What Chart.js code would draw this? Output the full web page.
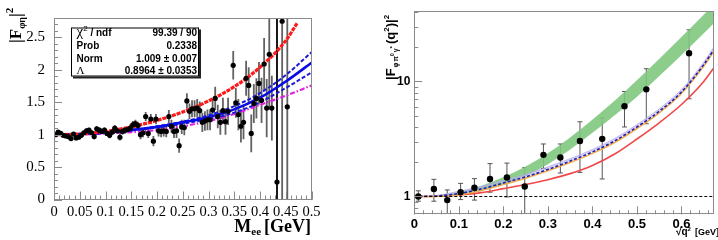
<!DOCTYPE html>
<html><head><meta charset="utf-8">
<script src="https://cdn.jsdelivr.net/npm/chart.js@4.4.0/dist/chart.umd.min.js"></script>
<style>
html,body{margin:0;padding:0;background:#fff;width:718px;height:240px;overflow:hidden}
#c1{position:absolute;left:0;top:0}
#c2{position:absolute;left:340px;top:0}
</style></head><body>
<canvas id="c1" width="340" height="240"></canvas>
<canvas id="c2" width="378" height="240"></canvas>
<script>
// ================= LEFT PANEL DATA =================
const mX = [0.003,0.008,0.013,0.018,0.023,0.028,0.033,0.038,0.043,0.048,0.053,0.058,0.063,0.068,0.073,0.078,0.083,0.088,0.093,0.098,
0.103,0.108,0.113,0.118,0.123,0.128,0.133,0.138,0.143,0.148,0.153,0.158,0.163,0.168,0.173,0.178,0.183,0.188,0.193,0.198,
0.203,0.208,0.213,0.218,0.223,0.228,0.233,0.238,0.243,0.248,0.253,0.258,0.263,0.268,0.273,0.278,0.283,0.288,0.293,0.298,
0.303,0.308,0.313,0.318,0.323,0.328,0.333,0.338,0.348,0.353,0.358,0.363,0.368,0.373,0.378,0.383,0.388,0.393,0.398,0.403,
0.408,0.413,0.418,0.423,0.433,0.443,0.453];
const mY = [1.00,1.04,1.02,0.99,0.98,0.97,0.94,1.01,0.95,0.96,0.99,1.03,1.06,1.07,1.03,0.97,1.09,1.07,1.05,1.07,
1.02,0.99,1.04,1.10,1.06,0.96,1.05,1.07,1.08,1.10,1.15,1.17,1.14,1.00,1.03,1.28,1.02,1.24,0.90,1.24,
1.06,1.05,1.06,1.05,1.28,1.13,1.05,1.06,0.83,1.12,1.11,1.52,1.36,1.40,1.40,1.41,1.37,1.19,1.21,1.23,
1.23,1.38,1.56,1.28,1.19,1.37,1.20,1.36,2.07,1.49,1.31,1.13,1.19,1.87,1.76,1.02,1.48,1.56,1.79,1.53,
2.09,1.41,2.24,1.41,0.27,2.75,1.43];
const mErr = [0.03,0.03,0.03,0.03,0.03,0.03,0.03,0.03,0.03,0.03,0.03,0.03,0.035,0.035,0.035,0.04,0.04,0.04,0.04,0.04,
0.04,0.045,0.045,0.045,0.05,0.05,0.05,0.05,0.05,0.06,0.06,0.06,0.06,0.07,0.07,0.07,0.07,0.08,0.08,0.08,
0.09,0.09,0.09,0.09,0.10,0.10,0.10,0.11,0.11,0.11,0.12,0.12,0.12,0.13,0.13,0.14,0.14,0.15,0.15,0.16,
0.16,0.17,0.18,0.18,0.19,0.20,0.20,0.21,0.22,0.23,0.24,0.25,0.26,0.27,0.28,0.29,0.30,0.31,0.33,0.35,
0.40,0.45,0.85,0.50,3.0,3.0,3.0];
const fitX      = [0,0.05,0.1,0.15,0.2,0.25,0.3,0.35,0.4,0.45,0.5];
const fitBlue   = [1.00,1.01,1.03,1.07,1.12,1.19,1.27,1.39,1.57,1.82,2.11];
const fitBlueUp = [1.00,1.01,1.03,1.07,1.13,1.20,1.30,1.44,1.64,1.92,2.27];
const fitBlueLo = [1.00,1.01,1.03,1.07,1.11,1.17,1.24,1.34,1.50,1.72,1.96];
const fitMag    = [0.99,1.00,1.02,1.04,1.07,1.13,1.21,1.32,1.46,1.60,1.76];
const redX      = [0,0.05,0.1,0.15,0.2,0.25,0.3,0.35,0.4,0.45,0.472];
const redY      = [1.00,1.01,1.05,1.12,1.22,1.35,1.52,1.74,2.04,2.45,2.72];
const leftXTickLabels = ['0','0.05','0.1','0.15','0.2','0.25','0.3','0.35','0.4','0.45','0.5'];
const leftYTickLabels = ['0','0.5','1','1.5','2','2.5'];

// ================= RIGHT PANEL DATA =================
const qX    = [0.009,0.044,0.074,0.104,0.135,0.170,0.208,0.248,0.290,0.328,0.372,0.422,0.472,0.521,0.617];
const qY    = [1.00,1.16,0.93,1.09,1.19,1.42,1.46,1.22,2.30,2.18,3.04,3.17,6.08,8.54,17.6];
const qErrHi= [1.12,1.41,1.14,1.30,1.43,1.93,1.95,1.78,2.86,2.86,4.46,4.83,8.17,12.9,28.1];
const qErrLo= [0.91,0.91,0.71,0.94,0.93,1.09,0.99,0.71,1.75,1.60,1.62,1.42,4.02,4.29,7.07];
const curveX   = [0,0.05,0.1,0.15,0.2,0.25,0.3,0.35,0.4,0.45,0.5,0.55,0.6,0.65,0.675];
const greenUp  = [1.00,1.017,1.088,1.23,1.46,1.81,2.36,3.24,4.63,6.76,10.2,15.6,24.2,37.8,48];
const greenLo  = [1.00,1.002,1.031,1.122,1.27,1.52,1.92,2.57,3.60,5.12,7.41,11.2,17.1,26.4,33];
const blueQ    = [1.00,1.01,1.06,1.16,1.31,1.48,1.72,2.03,2.44,3.04,4.02,5.50,8.10,14.0,19.5];
const lavUp    = [1.00,1.02,1.11,1.22,1.38,1.55,1.81,2.13,2.56,3.19,4.22,5.78,8.50,14.7,20.5];
const orangeQ  = [1.00,1.00,1.03,1.13,1.27,1.44,1.67,1.97,2.37,2.95,3.90,5.34,7.86,13.6,18.9];
const redQ     = [1.00,1.005,1.03,1.08,1.17,1.27,1.40,1.58,1.86,2.34,3.16,4.37,6.30,10.0,13.5];
const refX     = [0,0.675];
const refY     = [1,1];
const rightXTickLabels = ['0','0.1','0.2','0.3','0.4','0.5','0.6'];
const rightYTickLabels = ['1','10'];

// ================= helpers =================
const pts = (xs, ys) => xs.map((v,i)=>({x:v, y:ys[i]}));

function richText(ctx, parts, x, y){
  let cx = x;
  parts.forEach(p=>{
    ctx.font = p.f;
    ctx.fillText(p.t, cx, y + (p.dy||0));
    cx += ctx.measureText(p.t).width + (p.sp||0);
  });
  return cx - x;
}
function richWidth(ctx, parts){
  let w=0; parts.forEach(p=>{ctx.font=p.f; w+=ctx.measureText(p.t).width+(p.sp||0);}); return w;
}

const errBars = {
  id:'errBars',
  beforeDatasetsDraw(chart, args, o){
    const {ctx, chartArea:a, scales:{x,y}} = chart;
    ctx.save();
    ctx.beginPath(); ctx.rect(a.left,a.top,a.right-a.left,a.bottom-a.top); ctx.clip();
    o.sets.forEach(s=>{
      s.x.forEach((xv,i)=>{
        ctx.strokeStyle = (s.colors && s.colors[i]) || s.color;
        ctx.lineWidth = s.width;
        const px = x.getPixelForValue(xv);
        const y1 = y.getPixelForValue(s.lo[i]);
        const y2 = y.getPixelForValue(s.hi[i]);
        ctx.beginPath(); ctx.moveTo(px,y1); ctx.lineTo(px,y2);
        if(s.cap){ ctx.moveTo(px-s.cap,y1); ctx.lineTo(px+s.cap,y1); ctx.moveTo(px-s.cap,y2); ctx.lineTo(px+s.cap,y2); }
        ctx.stroke();
      });
    });
    ctx.restore();
  }
};

const axisDeco = {
  id:'axisDeco',
  afterDatasetsDraw(chart, args, o){
    const {ctx, chartArea:a, scales:{x,y}} = chart;
    ctx.save();
    ctx.strokeStyle = o.color; ctx.lineWidth = 1;
    ctx.beginPath();
    const xt=(v,l)=>{const p=Math.round(x.getPixelForValue(v))+0.5; ctx.moveTo(p,a.bottom); ctx.lineTo(p,a.bottom-l);};
    const yt=(v,l)=>{const p=Math.round(y.getPixelForValue(v))+0.5; ctx.moveTo(a.left,p); ctx.lineTo(a.left+l,p);};
    o.xMinor.forEach(v=>xt(v,o.minor)); o.xMajor.forEach(v=>xt(v,o.major));
    o.yMinor.forEach(v=>yt(v,o.minor)); o.yMajor.forEach(v=>yt(v,o.major));
    ctx.stroke();
    ctx.strokeRect(Math.round(a.left)+0.5, Math.round(a.top)+0.5, Math.round(a.right-a.left)-1, Math.round(a.bottom-a.top)-1);
    ctx.restore();
  }
};

// ================= LEFT CHART =================
const leftText = {
  id:'leftText',
  afterDraw(chart){
    const ctx = chart.ctx;
    ctx.save();
    ctx.fillStyle = '#000';
    ctx.textBaseline = 'alphabetic';
    // stats box
    const bx=71, by=27.5, bw=128, bh=49;
    ctx.fillStyle='#222'; ctx.fillRect(bx+2, by+2, bw, bh);
    ctx.fillStyle='#fff'; ctx.fillRect(bx, by, bw, bh);
    ctx.strokeStyle='#000'; ctx.lineWidth=1; ctx.strokeRect(bx+0.5, by+0.5, bw-1, bh-1);
    ctx.fillStyle='#000';
    const rows=[
      {l:[{t:'\u03C7',f:'15px "Liberation Serif"'},{t:'2',f:'8px "Liberation Sans"',dy:-5},{t:' / ndf',f:'bold 10px "Liberation Sans"'}], v:'99.39 / 90', y:36},
      {l:[{t:'Prob',f:'bold 10px "Liberation Sans"'}], v:'0.2338', y:49},
      {l:[{t:'Norm',f:'bold 10px "Liberation Sans"'}], v:'1.009 \u00B1 0.007', y:61.5},
      {l:[{t:'\u039B',f:'11px "Liberation Serif"'}], v:'0.8964 \u00B1 0.0353', y:74}
    ];
    rows.forEach(r=>{
      ctx.textAlign='left';
      richText(ctx, r.l, 76.5, r.y);
      ctx.font='bold 10px "Liberation Sans"'; ctx.textAlign='right';
      ctx.fillText(r.v, 197, r.y);
    });
    // x title
    ctx.textAlign='left';
    const xp=[{t:'M',f:'bold 18px "Liberation Serif"'},{t:'ee',f:'bold 11px "Liberation Serif"',dy:3,sp:3},{t:'[GeV]',f:'bold 18px "Liberation Serif"'}];
    const w = richWidth(ctx,xp);
    richText(ctx, xp, 311-w, 232);
    // y title (rotated)
    ctx.translate(21, 43);
    ctx.rotate(-Math.PI/2);
    richText(ctx,[{t:'|F',f:'bold 17px "Liberation Serif"'},{t:'\u03C6\u03B7',f:'bold 10px "Liberation Serif"',dy:4},{t:'|',f:'bold 17px "Liberation Serif"'},{t:'2',f:'bold 11px "Liberation Serif"',dy:-8}],0,0);
    ctx.restore();
  }
};

new Chart(document.getElementById('c1'), {
  type:'line',
  data:{datasets:[
    {data:pts(mX,mY), showLine:false, pointRadius:2.6, pointBackgroundColor:'#000', pointBorderColor:'#000', pointBorderWidth:0},
    {data:pts(redX,redY), borderColor:'#ff1a1a', borderWidth:3.2, borderDash:[4,1], pointRadius:0, cubicInterpolationMode:'monotone', fill:false},
    {data:pts(fitX,fitBlue), borderColor:'#0a0ae6', borderWidth:2.6, pointRadius:0, cubicInterpolationMode:'monotone', fill:false},
    {data:pts(fitX,fitBlueUp), borderColor:'#1a1ad8', borderWidth:2, borderDash:[4,2], pointRadius:0, cubicInterpolationMode:'monotone', fill:false},
    {data:pts(fitX,fitBlueLo), borderColor:'#1a1ad8', borderWidth:2, borderDash:[4,2], pointRadius:0, cubicInterpolationMode:'monotone', fill:false},
    {data:pts(fitX,fitMag), borderColor:'#e21ee2', borderWidth:2.2, borderDash:[5,2,1.5,2], pointRadius:0, cubicInterpolationMode:'monotone', fill:false}
  ]},
  options:{
    responsive:false, animation:false, devicePixelRatio:1,
    layout:{padding:{left:0,top:15,right:28.5,bottom:0}},
    plugins:{legend:{display:false}, tooltip:{enabled:false},
      errBars:{sets:[{x:mX, lo:mX.map((_,i)=>mY[i]-mErr[i]), hi:mX.map((_,i)=>mY[i]+mErr[i]), color:'rgba(70,70,70,0.85)', colors:mX.map(v=>v>0.43&&v<0.44?'#000':null), width:1.8}]},
      axisDeco:{color:'#8a8a8a', major:8, minor:4,
        xMajor:leftXTickLabels.map(Number), xMinor:Array.from({length:51},(_,i)=>i*0.01),
        yMajor:leftYTickLabels.map(Number), yMinor:Array.from({length:28},(_,i)=>i*0.1)}
    },
    scales:{
      x:{type:'linear', min:0, max:0.5, grid:{display:false, drawTicks:false}, border:{display:false},
         afterFit(s){s.height=40.5;},
         afterBuildTicks(s){s.ticks=leftXTickLabels.map(t=>({value:Number(t)}));},
         ticks:{autoSkip:false, maxRotation:0, padding:4, color:'#000', font:{family:'"Liberation Serif"', size:14.5},
           callback:(v,i)=>leftXTickLabels[i]}},
      y:{type:'linear', min:0, max:2.8, grid:{display:false, drawTicks:false}, border:{display:false},
         afterFit(s){s.width=54;},
         afterBuildTicks(s){s.ticks=leftYTickLabels.map(t=>({value:Number(t)}));},
         ticks:{autoSkip:false, padding:9, color:'#000', font:{family:'"Liberation Serif"', size:15},
           callback:(v,i)=>leftYTickLabels[i]}}
    }
  },
  plugins:[errBars, axisDeco, leftText]
});

// ================= RIGHT CHART =================
const rightText = {
  id:'rightText',
  afterDraw(chart){
    const ctx = chart.ctx;
    ctx.save();
    ctx.fillStyle='#000'; ctx.textAlign='left'; ctx.textBaseline='alphabetic';
    // x title
    richText(ctx,[{t:'\u221Aq',f:'bold 10px "Liberation Sans"'},{t:'2',f:'bold 6px "Liberation Sans"',dy:-4,sp:4},{t:'[GeV]',f:'bold 9px "Liberation Sans"'}], 336, 235);
    // y title (rotated)
    ctx.translate(55, 80);
    ctx.rotate(-Math.PI/2);
    richText(ctx,[
      {t:'|F',f:'bold 13px "Liberation Sans"',sp:1},
      {t:'\u03C6',f:'bold 7px "Liberation Sans"',dy:3,sp:1},
      {t:'\u03C0',f:'bold 7px "Liberation Sans"',dy:3},
      {t:'0',f:'bold 5px "Liberation Sans"',dy:-1,sp:1},
      {t:'\u03B3',f:'bold 7px "Liberation Sans"',dy:3},
      {t:'*',f:'bold 6px "Liberation Sans"',dy:-1,sp:2},
      {t:'(q',f:'bold 13px "Liberation Sans"'},
      {t:'2',f:'bold 8px "Liberation Sans"',dy:-6},
      {t:')|',f:'bold 13px "Liberation Sans"'},
      {t:'2',f:'bold 8px "Liberation Sans"',dy:-6}
    ],0,0);
    ctx.restore();
  }
};

const yMinorR = [0.8,0.9,2,3,4,5,6,7,8,9,20,30,40];
new Chart(document.getElementById('c2'), {
  type:'line',
  data:{datasets:[
    {data:pts(qX,qY), showLine:false, pointRadius:3.2, pointBackgroundColor:'#000', pointBorderColor:'#000', pointBorderWidth:0},
    {data:pts(refX,refY), borderColor:'#000', borderWidth:1, borderDash:[3,2], pointRadius:0, fill:false},
    {data:pts(curveX,blueQ), borderColor:'#1f1fb0', borderWidth:1.6, borderDash:[3,2], pointRadius:0, cubicInterpolationMode:'monotone', fill:false},
    {data:pts(curveX,orangeQ), borderColor:'#f0b050', borderWidth:1.6, pointRadius:0, cubicInterpolationMode:'monotone', fill:false},
    {data:pts(curveX,lavUp), borderColor:'rgba(180,170,235,0.8)', backgroundColor:'rgba(185,175,240,0.55)', borderWidth:1, pointRadius:0, cubicInterpolationMode:'monotone', fill:'-2'},
    {data:pts(curveX,redQ), borderColor:'#f04848', borderWidth:1.6, pointRadius:0, cubicInterpolationMode:'monotone', fill:false},
    {data:pts(curveX,greenLo), borderColor:'rgba(120,195,120,0.9)', borderWidth:0.5, pointRadius:0, cubicInterpolationMode:'monotone', fill:false},
    {data:pts(curveX,greenUp), borderColor:'rgba(120,195,120,0.9)', backgroundColor:'rgba(128,200,128,0.9)', borderWidth:0.5, pointRadius:0, cubicInterpolationMode:'monotone', fill:'-1'}
  ]},
  options:{
    responsive:false, animation:false, devicePixelRatio:1,
    layout:{padding:{left:0,top:8.3,right:2,bottom:0}},
    plugins:{legend:{display:false}, tooltip:{enabled:false},
      errBars:{sets:[{x:qX, lo:qErrLo, hi:qErrHi, color:'#555', width:1, cap:2.5}]},
      axisDeco:{color:'#8a8a8a', major:8, minor:4,
        xMajor:rightXTickLabels.map(Number), xMinor:Array.from({length:34},(_,i)=>i*0.02),
        yMajor:rightYTickLabels.map(Number), yMinor:yMinorR}
    },
    scales:{
      x:{type:'linear', min:0, max:0.673, grid:{display:false, drawTicks:false}, border:{display:false},
         afterFit(s){s.height=25.7;},
         afterBuildTicks(s){s.ticks=rightXTickLabels.map(t=>({value:Number(t)}));},
         ticks:{autoSkip:false, maxRotation:0, padding:2, color:'#000', font:{family:'"Liberation Sans"', size:13, weight:'bold'},
           callback:(v,i)=>rightXTickLabels[i]}},
      y:{type:'logarithmic', min:0.707, max:40.8, grid:{display:false, drawTicks:false}, border:{display:false},
         afterFit(s){s.width=74.3;},
         afterBuildTicks(s){s.ticks=rightYTickLabels.map(t=>({value:Number(t)}));},
         ticks:{autoSkip:false, padding:4, color:'#000', font:{family:'"Liberation Sans"', size:12, weight:'bold'},
           callback:(v,i)=>rightYTickLabels[i]}}
    }
  },
  plugins:[errBars, axisDeco, rightText]
});
</script>
</body></html>
